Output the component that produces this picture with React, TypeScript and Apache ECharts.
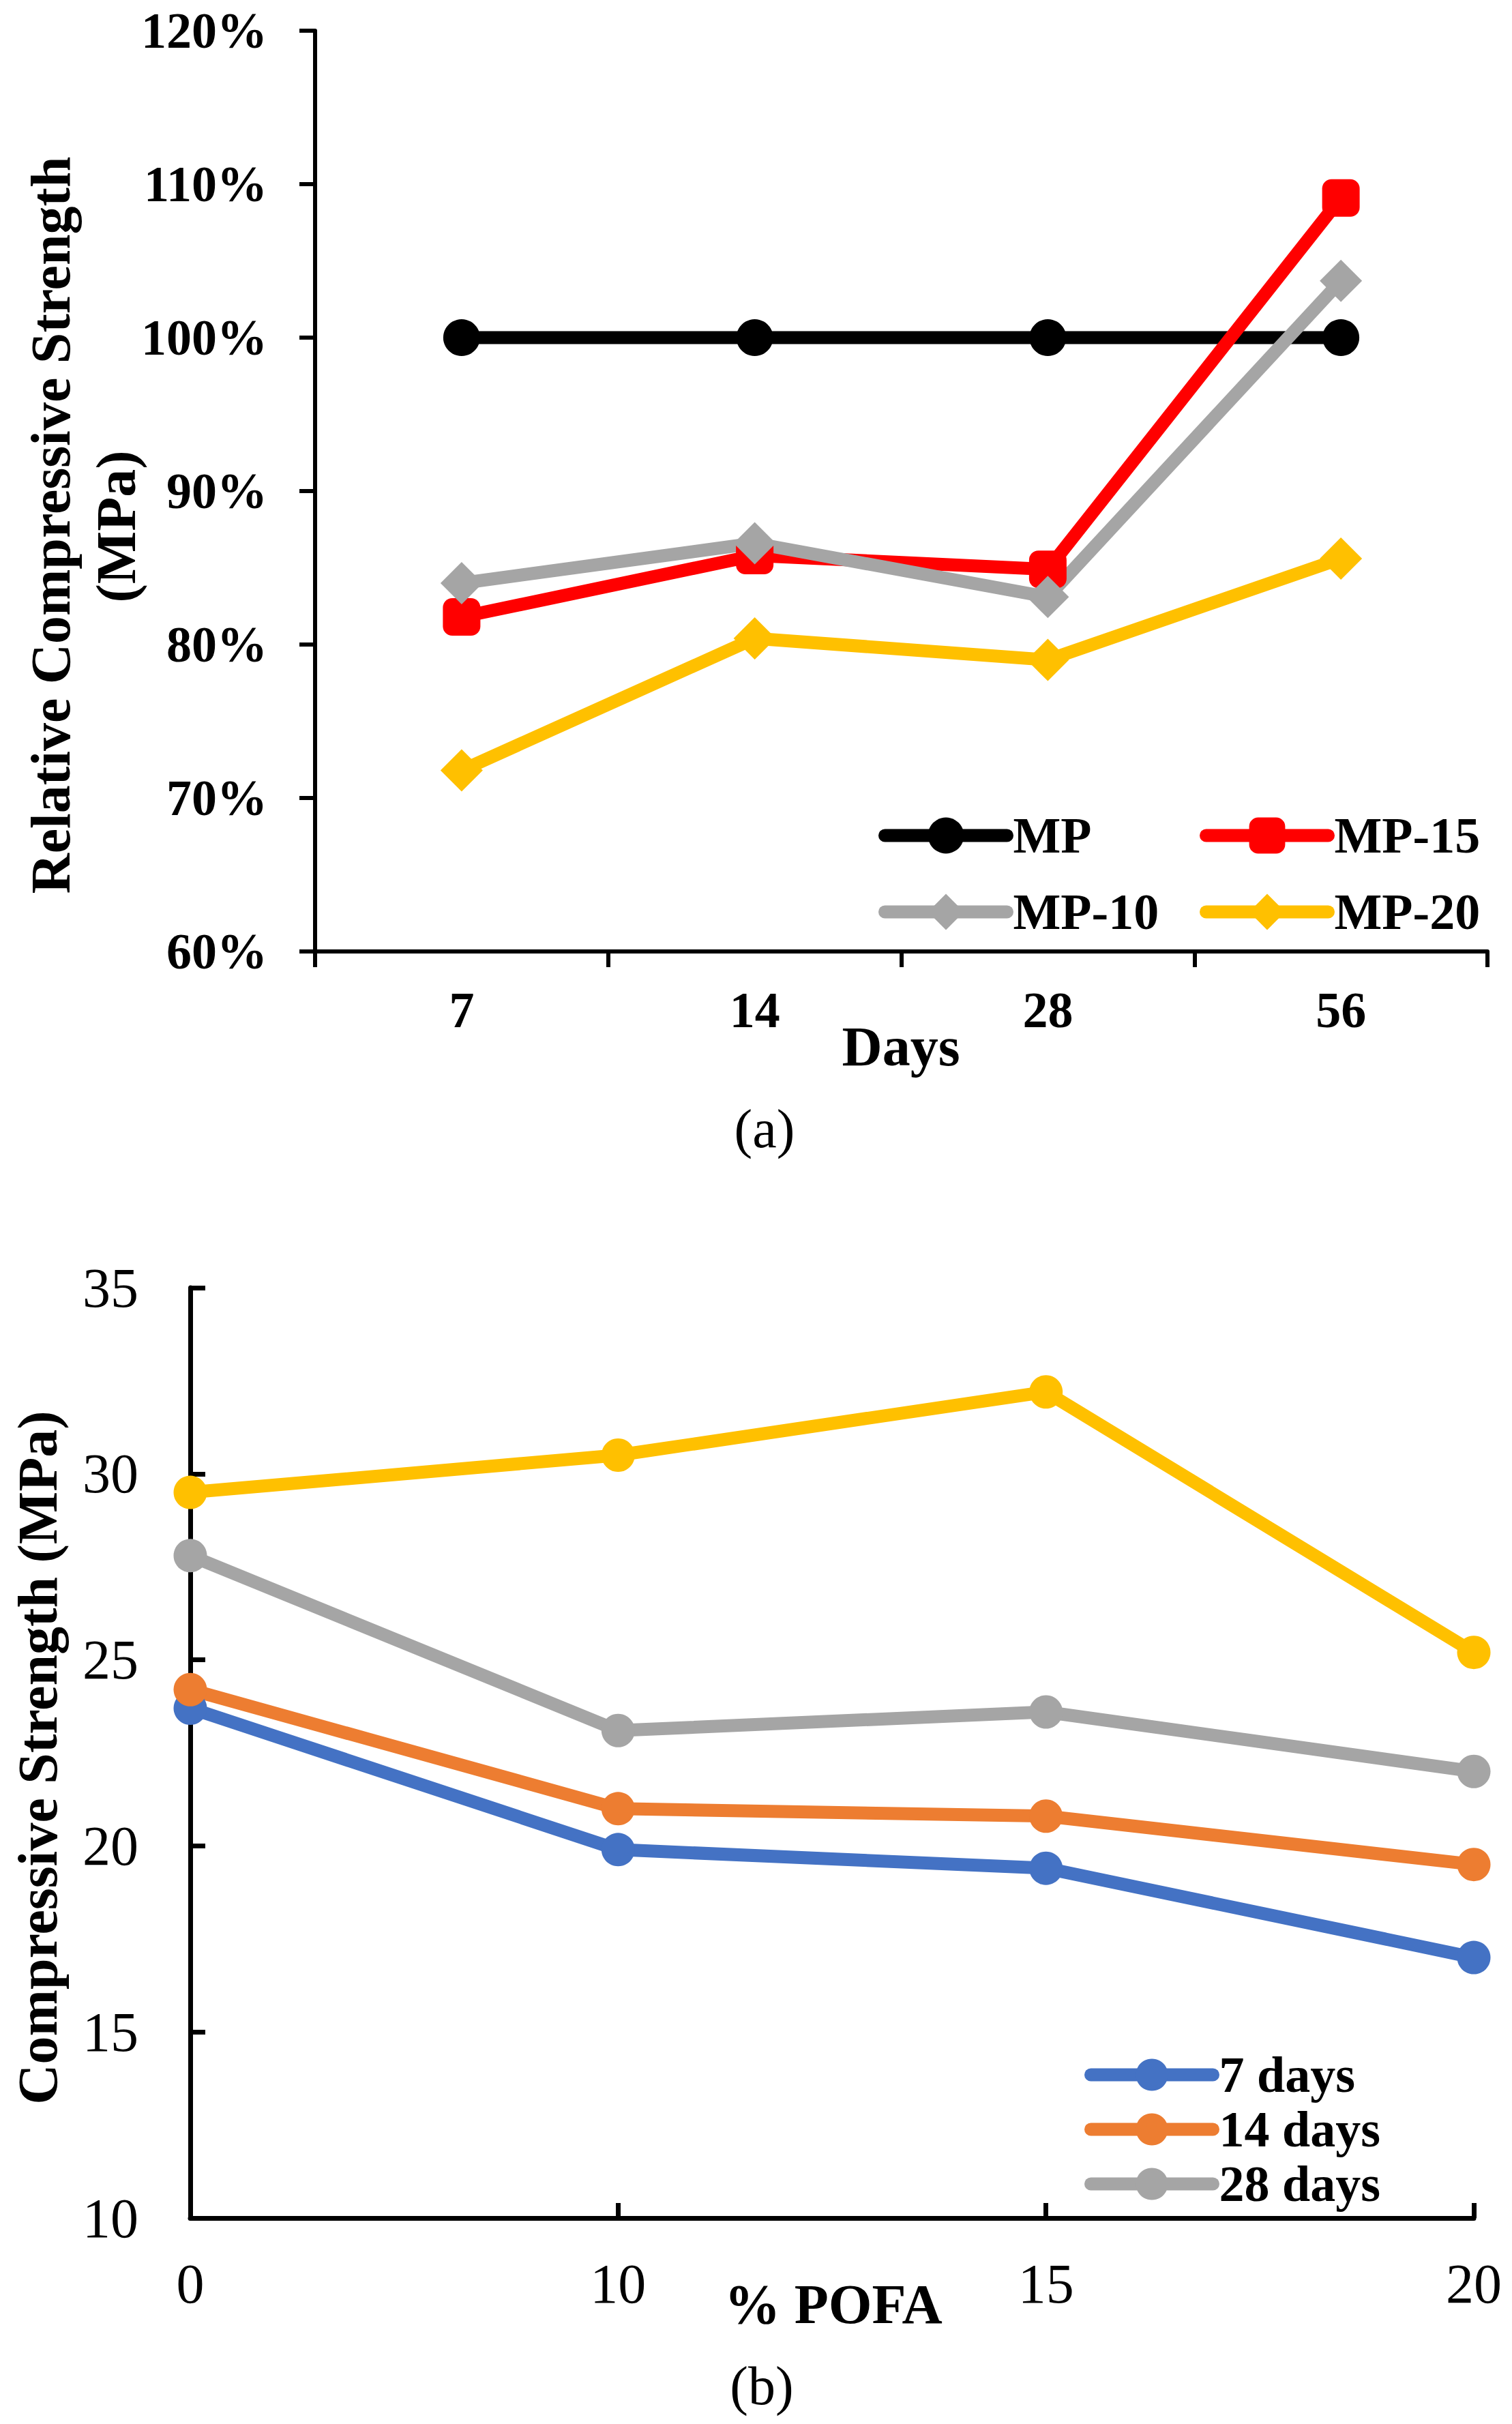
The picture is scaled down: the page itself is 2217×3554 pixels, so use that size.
import React, { useEffect, useRef } from "react";
import * as echarts from "echarts";

// ---- Chart (a) data ----
const dayCategories = ["7", "14", "28", "56"];
const mpValues = [100, 100, 100, 100];
const mp15Values = [81.8, 85.8, 84.9, 109.1];
const mp10Values = [84.0, 86.6, 83.1, 103.7];
const mp20Values = [71.8, 80.4, 79.0, 85.6];
const percentTicks = { min: 60, max: 120, interval: 10 };

// ---- Chart (b) data ----
const pofaCategories = ["0", "10", "15", "20"];
const days7Values = [23.7, 19.9, 19.4, 17.0];
const days14Values = [24.2, 21.0, 20.8, 19.5];
const days28Values = [27.8, 23.1, 23.6, 22.0];
const days56Values = [29.5, 30.5, 32.2, 25.2];
const strengthTicks = { min: 10, max: 35, interval: 5 };

const FONT = "'Times New Roman', 'Liberation Serif', serif";
const W = 2217;
const H = 3554;

export default function App() {
  const ref = useRef<HTMLDivElement | null>(null);

  useEffect(() => {
    document.body.style.margin = "0";
    if (!ref.current) return;
    const chart = echarts.init(ref.current, undefined, { renderer: "svg" });

    const lw = 19;
    const lineSeries = (
      name: string,
      data: number[],
      color: string,
      symbol: string,
      size: number,
      idx: number
    ) => ({
      name,
      type: "line",
      xAxisIndex: idx,
      yAxisIndex: idx,
      data,
      symbol,
      symbolSize: size,
      showSymbol: true,
      lineStyle: { color, width: lw, cap: "round", join: "round" },
      itemStyle: { color, borderWidth: 0 },
      emphasis: { disabled: true },
    });

    const legendItem = (name: string, left: number, centerY: number, itemHeight: number, fontSize: number) => ({
      data: [name],
      left,
      top: centerY - Math.max(itemHeight, fontSize) / 2,
      orient: "horizontal",
      padding: 0,
      itemWidth: 179,
      itemHeight,
      itemGap: 0,
      selectedMode: false,
      lineStyle: { width: lw, cap: "round" },
      textStyle: { fontFamily: FONT, fontWeight: "bold", fontSize, color: "#000", padding: [0, 0, 0, 4] },
    });

    const option: any = {
      animation: false,
      backgroundColor: "#ffffff",
      grid: [
        { left: 462, top: 45, width: 1719, height: 1350, containLabel: false },
        { left: 279, top: 1888, width: 1882, height: 1364, containLabel: false },
      ],
      xAxis: [
        {
          type: "category",
          gridIndex: 0,
          data: dayCategories,
          boundaryGap: true,
          axisLine: { show: true, lineStyle: { color: "#000", width: 6 } },
          axisTick: { show: true, inside: false, length: 23, lineStyle: { color: "#000", width: 6 } },
          axisLabel: { margin: 49, fontFamily: FONT, fontWeight: "bold", fontSize: 74, color: "#000" },
          splitLine: { show: false },
        },
        {
          type: "category",
          gridIndex: 1,
          data: pofaCategories,
          boundaryGap: false,
          axisLine: { show: true, lineStyle: { color: "#000", width: 7 } },
          axisTick: { show: true, inside: true, length: 22, interval: 0, lineStyle: { color: "#000", width: 7 } },
          axisLabel: { margin: 55, fontFamily: FONT, fontSize: 82, color: "#000", interval: 0 },
          splitLine: { show: false },
        },
      ],
      yAxis: [
        {
          type: "value",
          gridIndex: 0,
          min: percentTicks.min,
          max: percentTicks.max,
          interval: percentTicks.interval,
          axisLine: { show: true, lineStyle: { color: "#000", width: 6 } },
          axisTick: { show: true, inside: false, length: 23, lineStyle: { color: "#000", width: 6 } },
          axisLabel: {
            margin: 70,
            formatter: "{value}%",
            fontFamily: FONT,
            fontWeight: "bold",
            fontSize: 74,
            color: "#000",
          },
          splitLine: { show: false },
        },
        {
          type: "value",
          gridIndex: 1,
          min: strengthTicks.min,
          max: strengthTicks.max,
          interval: strengthTicks.interval,
          axisLine: { show: true, lineStyle: { color: "#000", width: 7 } },
          axisTick: { show: true, inside: true, length: 22, lineStyle: { color: "#000", width: 7 } },
          axisLabel: { margin: 76, fontFamily: FONT, fontSize: 82, color: "#000" },
          splitLine: { show: false },
        },
      ],
      legend: [
        legendItem("MP", 1288, 1225, 66, 74),
        legendItem("MP-15", 1759, 1225, 66, 74),
        legendItem("MP-10", 1288, 1337, 66, 74),
        legendItem("MP-20", 1759, 1337, 66, 74),
        legendItem("7 days", 1590, 3042, 59, 74),
        legendItem("14 days", 1590, 3122, 59, 74),
        legendItem("28 days", 1590, 3202, 59, 74),
      ],
      series: [
        lineSeries("MP", mpValues, "#000000", "circle", 54, 0),
        lineSeries("MP-15", mp15Values, "#FF0000", "roundRect", 55, 0),
        lineSeries("MP-10", mp10Values, "#A5A5A5", "diamond", 62, 0),
        lineSeries("MP-20", mp20Values, "#FFC000", "diamond", 62, 0),
        lineSeries("7 days", days7Values, "#4472C4", "circle", 49, 1),
        lineSeries("14 days", days14Values, "#ED7D31", "circle", 49, 1),
        lineSeries("28 days", days28Values, "#A5A5A5", "circle", 49, 1),
        lineSeries("56 days", days56Values, "#FFC000", "circle", 49, 1),
      ],
      graphic: [
        {
          type: "text",
          x: 74,
          y: 770,
          rotation: Math.PI / 2,
          style: {
            text: "Relative Compressive Strength",
            font: `bold 82px ${FONT}`,
            fill: "#000",
            textAlign: "center",
            textVerticalAlign: "middle",
          },
        },
        {
          type: "text",
          x: 170,
          y: 772,
          rotation: Math.PI / 2,
          style: {
            text: "(MPa)",
            font: `bold 82px ${FONT}`,
            fill: "#000",
            textAlign: "center",
            textVerticalAlign: "middle",
          },
        },
        {
          type: "text",
          x: 1321,
          y: 1534,
          style: {
            text: "Days",
            font: `bold 82px ${FONT}`,
            fill: "#000",
            textAlign: "center",
            textVerticalAlign: "middle",
          },
        },
        {
          type: "text",
          x: 1121,
          y: 1655,
          style: {
            text: "(a)",
            font: `80px ${FONT}`,
            fill: "#000",
            textAlign: "center",
            textVerticalAlign: "middle",
          },
        },
        {
          type: "text",
          x: 55,
          y: 2577,
          rotation: Math.PI / 2,
          style: {
            text: "Compressive Strength (MPa)",
            font: `bold 82px ${FONT}`,
            fill: "#000",
            textAlign: "center",
            textVerticalAlign: "middle",
          },
        },
        {
          type: "text",
          x: 1222,
          y: 3378,
          style: {
            text: "% POFA",
            font: `bold 82px ${FONT}`,
            fill: "#000",
            textAlign: "center",
            textVerticalAlign: "middle",
          },
        },
        {
          type: "text",
          x: 1117,
          y: 3498,
          style: {
            text: "(b)",
            font: `80px ${FONT}`,
            fill: "#000",
            textAlign: "center",
            textVerticalAlign: "middle",
          },
        },
      ],
    };

    chart.setOption(option);
    return () => {
      chart.dispose();
    };
  }, []);

  return <div ref={ref} style={{ width: W, height: H }} />;
}
